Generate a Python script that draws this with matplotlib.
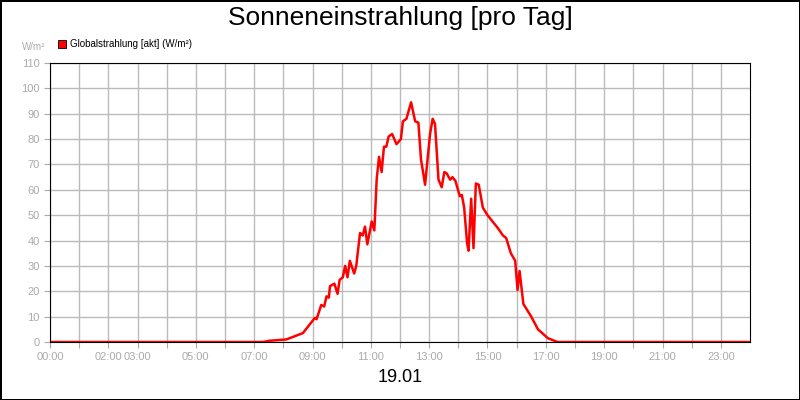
import matplotlib
matplotlib.use("Agg")
import matplotlib.pyplot as plt

plt.rcParams['font.family'] = ['Liberation Sans', 'DejaVu Sans']

# hours of day and global radiation values (W/m²)
hours = [0, 7.3, 7.53, 8.1, 8.67, 9.08, 9.14, 9.3, 9.4, 9.48, 9.56, 9.6, 9.75, 9.86, 9.93,
         10.04, 10.12, 10.2, 10.28, 10.43, 10.5, 10.63, 10.72, 10.8, 10.88, 11.03, 11.12,
         11.2, 11.28, 11.37, 11.45, 11.53, 11.61, 11.73, 11.88, 12.03, 12.1, 12.22, 12.38,
         12.52, 12.63, 12.72, 12.86, 13.03, 13.12, 13.2, 13.32, 13.43, 13.52, 13.6, 13.72,
         13.8, 13.9, 14.05, 14.12, 14.2, 14.3, 14.35, 14.44, 14.52, 14.6, 14.7, 14.84, 15.0,
         15.35, 15.53, 15.64, 15.8, 15.95, 16.03, 16.1, 16.23, 16.5, 16.73, 17.07, 17.4, 24]
values = [0, 0, 0.5, 1, 3.5, 9.5, 9, 14.6, 14, 18, 17.5, 22, 23, 19, 24.5,
          25.5, 30, 25.5, 32, 27, 30, 43, 42, 45.5, 38.5, 47.5, 44,
          64, 73, 67, 77, 77, 81, 82, 78, 80, 87, 88, 94.5,
          87, 86.5, 72, 62, 82, 88, 86, 64, 61, 67, 66.5, 64,
          65, 63.5, 57.5, 58, 53, 39, 36, 56.5, 37, 62.5, 62, 53, 50,
          45, 42, 41, 35, 32, 20.5, 28, 15, 10, 5, 1.5, 0, 0]
tick_hours = [0, 2, 3, 5, 7, 9, 11, 13, 15, 17, 19, 21, 23]
tick_labels = ["00:00", "02:00", "03:00", "05:00", "07:00", "09:00", "11:00",
               "13:00", "15:00", "17:00", "19:00", "21:00", "23:00"]

fig = plt.figure(figsize=(8, 4), dpi=100)
fig.patch.set_edgecolor("black")
fig.patch.set_linewidth(2)
ax = fig.add_axes([50/800, 58/400, 700/800, 279/400])
ax.plot(hours, values, color="red", lw=1.8)
ax.set_xlim(0, 24)
ax.set_ylim(0, 110)
ax.set_yticks(range(0, 111, 10))
ax.set_xticks(range(0, 24))
ax.set_xticklabels([tick_labels[tick_hours.index(h)] if h in tick_hours else "" for h in range(24)])
ax.grid(True, color="#bbbbbb", lw=1)
ax.set_axisbelow(True)
ax.tick_params(colors="#aaaaaa", labelsize=8, length=4)
for s in ax.spines.values():
    s.set_color("black")
fig.text(0.5, 0.955, "Sonneneinstrahlung [pro Tag]", ha="center", va="center", fontsize=19)
fig.text(0.5, 0.055, "19.01", ha="center", va="center", fontsize=13)
fig.text(22/800, 1 - 47/400, "W/m²", color="#aaaaaa", fontsize=7, va="center")
fig.patches.append(plt.Rectangle((58/800, 1 - 48/400), 8/800, 8/400, transform=fig.transFigure,
                                 facecolor="red", edgecolor="black", lw=0.6))
fig.text(70/800, 1 - 44/400, "Globalstrahlung [akt] (W/m²)", fontsize=7, va="center")
fig.savefig("out.png", dpi=100, edgecolor=fig.get_edgecolor())
